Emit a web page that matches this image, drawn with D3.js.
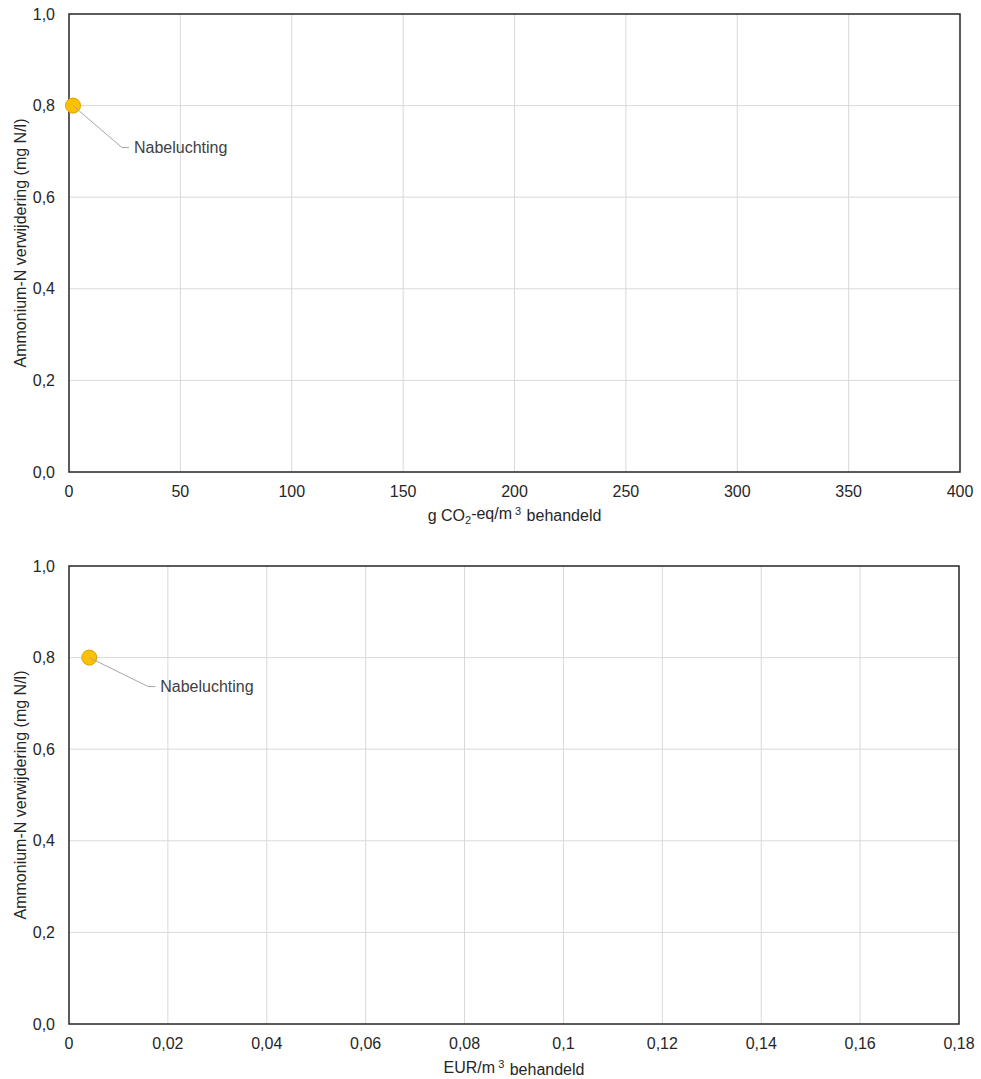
<!DOCTYPE html>
<html><head><meta charset="utf-8">
<script src="https://cdn.jsdelivr.net/npm/d3@7"></script>
<style>body{margin:0;background:#fff;} text{font-family:"Liberation Sans",Arial,sans-serif;}</style>
</head><body>
<svg id="c" width="981" height="1079"></svg>
<script>
const yTicks = [0, 0.2, 0.4, 0.6, 0.8, 1.0];
const co2Ticks = [0, 50, 100, 150, 200, 250, 300, 350, 400];
const eurTicks = [0, 0.02, 0.04, 0.06, 0.08, 0.1, 0.12, 0.14, 0.16, 0.18];
const pointLabels = ["Nabeluchting"];
const co2Values = [1.8];
const eurValues = [0.0041];
const nh4Values = [0.80];

const svg = d3.select("#c");
const fmt = d => String(d).replace(".", ",");
const fmtY = d => d.toFixed(1).replace(".", ",");
const FS = 16;

function panel(cfg){
  const g = svg.append("g");
  const x = d3.scaleLinear().domain([cfg.ticks[0], cfg.ticks[cfg.ticks.length-1]]).range([cfg.x0, cfg.x1]);
  const y = d3.scaleLinear().domain([0, 1]).range([cfg.y1, cfg.y0]);
  g.selectAll(".gx").data(cfg.ticks.slice(1,-1)).enter().append("line")
    .attr("x1", d=>x(d)).attr("x2", d=>x(d)).attr("y1", cfg.y0).attr("y2", cfg.y1)
    .attr("stroke", "#d9d9d9").attr("stroke-width", 1);
  g.selectAll(".gy").data(yTicks.slice(1,-1)).enter().append("line")
    .attr("x1", cfg.x0).attr("x2", cfg.x1).attr("y1", d=>y(d)).attr("y2", d=>y(d))
    .attr("stroke", "#d9d9d9").attr("stroke-width", 1);
  g.append("rect").attr("x", cfg.x0).attr("y", cfg.y0).attr("width", cfg.x1-cfg.x0).attr("height", cfg.y1-cfg.y0)
    .attr("fill", "none").attr("stroke", "#262626").attr("stroke-width", 1.5);
  g.selectAll(".ty").data(yTicks).enter().append("text")
    .attr("x", cfg.x0-14).attr("y", d=>y(d)).attr("dy", "0.35em").attr("text-anchor", "end")
    .attr("font-size", FS).attr("fill", "#262626").text(fmtY);
  g.selectAll(".tx").data(cfg.ticks).enter().append("text")
    .attr("x", d=>x(d)).attr("y", cfg.y1+19).attr("dy", "0.35em").attr("text-anchor", "middle")
    .attr("font-size", FS).attr("fill", "#262626").text(fmt);
  g.append("text").attr("transform", `translate(${cfg.x0-49},${(cfg.y0+cfg.y1)/2}) rotate(-90)`)
    .attr("text-anchor", "middle").attr("dy", "0.35em").attr("font-size", FS).attr("fill", "#262626")
    .text("Ammonium-N verwijdering (mg N/l)");
  const xt = g.append("text").attr("x", (cfg.x0+cfg.x1)/2).attr("y", cfg.y1+43).attr("dy", "0.35em")
    .attr("text-anchor", "middle").attr("font-size", FS).attr("fill", "#262626");
  cfg.title(xt);
  cfg.values.forEach((v, i) => {
    const px = x(v), py = y(nh4Values[i]);
    const lx = px + cfg.lab[0], ly = py + cfg.lab[1];
    g.append("circle").attr("cx", px).attr("cy", py).attr("r", 7.5)
      .attr("fill", "#ffc000").attr("stroke", "#d9a300").attr("stroke-width", 1);
    g.append("polyline").attr("points", `${px},${py} ${lx},${ly} ${lx+7},${ly}`)
      .attr("fill", "none").attr("stroke", "#a6a6a6").attr("stroke-width", 1);
    g.append("text").attr("x", lx+12).attr("y", ly).attr("dy", "0.35em")
      .attr("font-size", FS).attr("fill", "#404040").text(pointLabels[i]);
  });
}

panel({x0:69, x1:960, y0:14, y1:472, ticks:co2Ticks, values:co2Values, lab:[49,42],
  title: t => { t.append("tspan").text("g CO"); t.append("tspan").attr("font-size",11).attr("dy","0.3em").text("2");
    t.append("tspan").attr("dy","-0.3em").text("-eq/m"); t.append("tspan").attr("font-size",11).attr("dx",3).attr("dy","-0.4em").text("3");
    t.append("tspan").attr("dx",1).attr("dy","0.4em").text(" behandeld"); }});
panel({x0:69, x1:959, y0:566, y1:1024, ticks:eurTicks, values:eurValues, lab:[59,29],
  title: t => { t.append("tspan").text("EUR/m"); t.append("tspan").attr("font-size",11).attr("dx",3).attr("dy","-0.4em").text("3");
    t.append("tspan").attr("dx",1).attr("dy","0.4em").text(" behandeld"); }});
</script>
</body></html>
